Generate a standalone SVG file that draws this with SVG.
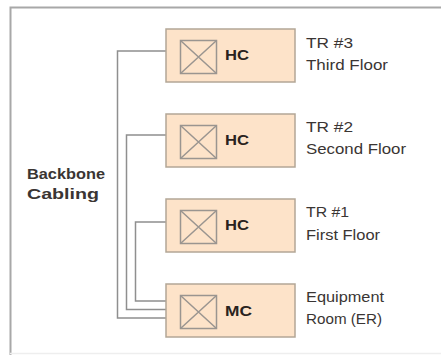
<svg xmlns="http://www.w3.org/2000/svg" width="441" height="358" viewBox="0 0 441 358">
<style>
.box{fill:#fde3c9;stroke:#b3a696;stroke-width:1.5}
.icon{fill:none;stroke:#9a9590;stroke-width:1.5}
.cable{fill:none;stroke:#8f8f8f;stroke-width:1.5}
.tag{font-family:"Liberation Sans",Arial,sans-serif;font-weight:bold;font-size:14px;fill:#2a2320}
.lbl{font-family:"Liberation Sans",Arial,sans-serif;font-size:15px;fill:#3a3533}
.bb{font-family:"Liberation Sans",Arial,sans-serif;font-weight:bold;font-size:15px;fill:#3a3533}
</style>
<rect width="441" height="358" fill="#ffffff"/>
<path d="M10.5,355 V7.5 H441" fill="none" stroke="#a8a8a8" stroke-width="2"/>
<line x1="10" y1="353.5" x2="441" y2="353.5" stroke="#eeeeee" stroke-width="1.5"/>
<g id="connectors">
<path class="cable" d="M180,51 H117.5 V318 H180"/>
<path class="cable" d="M180,135 H126.5 V309.5 H180"/>
<path class="cable" d="M180,222 H135.5 V301 H180"/>
</g>
<g id="tr3">
<rect class="box" x="166" y="29" width="129" height="53"/>
<rect class="icon" x="180.5" y="40.5" width="36" height="33"/>
<path class="icon" d="M180.5,40.5 L216.5,73.5 M216.5,40.5 L180.5,73.5"/>
<text class="tag" x="225" y="60" textLength="24" lengthAdjust="spacingAndGlyphs">HC</text>
<text class="lbl" x="306" y="48" textLength="47" lengthAdjust="spacingAndGlyphs">TR #3</text>
<text class="lbl" x="306" y="70" textLength="82" lengthAdjust="spacingAndGlyphs">Third Floor</text>
</g>
<g id="tr2">
<rect class="box" x="166" y="114" width="129" height="53"/>
<rect class="icon" x="180.5" y="125.5" width="36" height="33"/>
<path class="icon" d="M180.5,125.5 L216.5,158.5 M216.5,125.5 L180.5,158.5"/>
<text class="tag" x="225" y="145" textLength="24" lengthAdjust="spacingAndGlyphs">HC</text>
<text class="lbl" x="306" y="132" textLength="47" lengthAdjust="spacingAndGlyphs">TR #2</text>
<text class="lbl" x="306" y="154" textLength="100" lengthAdjust="spacingAndGlyphs">Second Floor</text>
</g>
<g id="tr1">
<rect class="box" x="166" y="199" width="129" height="53"/>
<rect class="icon" x="180.5" y="210.5" width="36" height="33"/>
<path class="icon" d="M180.5,210.5 L216.5,243.5 M216.5,210.5 L180.5,243.5"/>
<text class="tag" x="225" y="230" textLength="24" lengthAdjust="spacingAndGlyphs">HC</text>
<text class="lbl" x="306" y="217" textLength="43" lengthAdjust="spacingAndGlyphs">TR #1</text>
<text class="lbl" x="306" y="240" textLength="74" lengthAdjust="spacingAndGlyphs">First Floor</text>
</g>
<g id="er">
<rect class="box" x="166" y="284" width="129" height="53"/>
<rect class="icon" x="180.5" y="295.5" width="36" height="33"/>
<path class="icon" d="M180.5,295.5 L216.5,328.5 M216.5,295.5 L180.5,328.5"/>
<text class="tag" x="225" y="316" textLength="27" lengthAdjust="spacingAndGlyphs">MC</text>
<text class="lbl" x="306" y="302" textLength="78" lengthAdjust="spacingAndGlyphs">Equipment</text>
<text class="lbl" x="306" y="324" textLength="76" lengthAdjust="spacingAndGlyphs">Room (ER)</text>
</g>
<g id="backbone">
<text class="bb" x="27" y="179" textLength="78" lengthAdjust="spacingAndGlyphs">Backbone</text>
<text class="bb" x="27" y="199" textLength="72" lengthAdjust="spacingAndGlyphs">Cabling</text>
</g>
</svg>
